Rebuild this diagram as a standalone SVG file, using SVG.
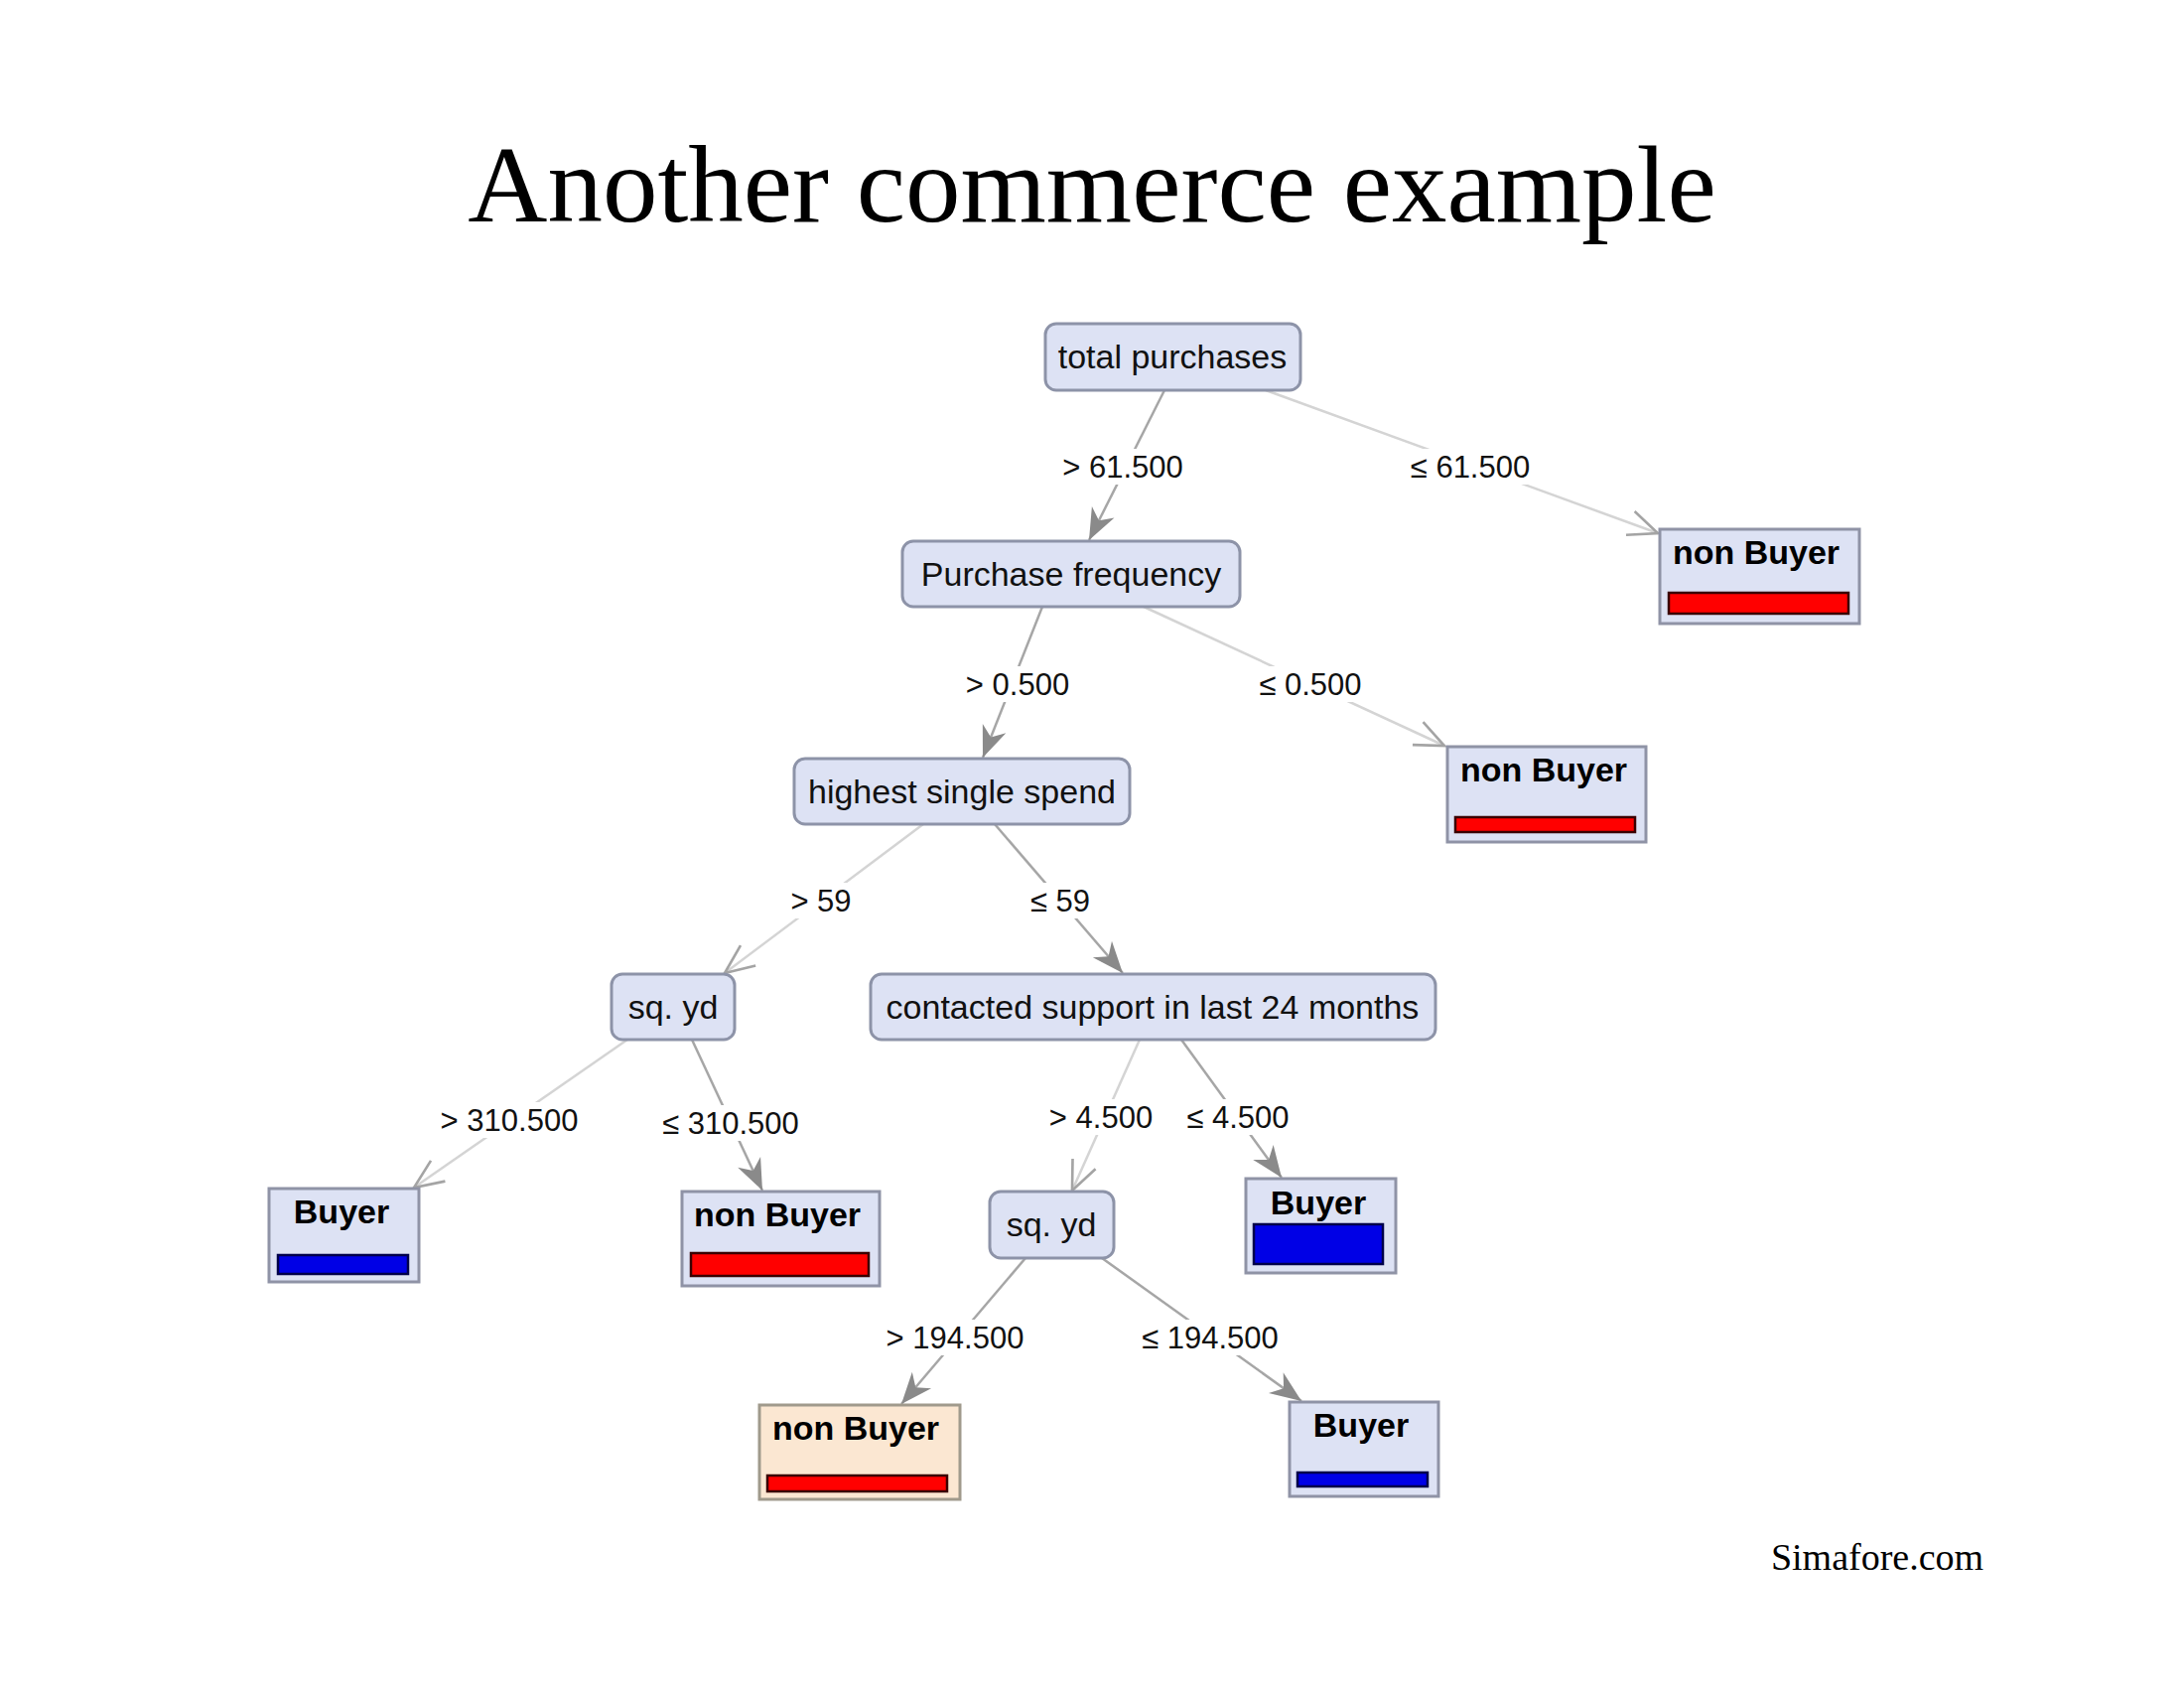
<svg xmlns="http://www.w3.org/2000/svg" width="2200" height="1700" viewBox="0 0 2200 1700">
  <style>
    .title { font-family: "Liberation Serif", "Times New Roman", serif; fill: #000; }
    .split rect { fill: #dde2f4; stroke: #8d93a8; stroke-width: 3; }
    .split text { font-family: "Liberation Sans", Arial, sans-serif; font-size: 34px; fill: #111; text-anchor: middle; }
    .leaf > rect.box { fill: #dde2f4; stroke: #8f93a6; stroke-width: 3; }
    .leaf.peach > rect.box { fill: #fbe7d2; stroke: #a09a8c; }
    .leaf text { font-family: "Liberation Sans", Arial, sans-serif; font-size: 34px; font-weight: bold; fill: #000; text-anchor: middle; }
    .bar-red { fill: #ff0000; stroke: #3a0000; stroke-width: 2.5; }
    .bar-blue { fill: #0000e6; stroke: #00004a; stroke-width: 2.5; }
    .edge { fill: none; stroke-width: 2.5; }
    .edge.dark { stroke: #a6a6a6; marker-end: url(#arrowDark); }
    .edge.light { stroke: #d4d4d4; marker-end: url(#arrowLight); }
    .lbl rect { fill: #ffffff; }
    .lbl text { font-family: "Liberation Sans", Arial, sans-serif; font-size: 31px; fill: #111; text-anchor: middle; }
  </style>
  <defs>
    <marker id="arrowDark" markerUnits="userSpaceOnUse" markerWidth="40" markerHeight="40" viewBox="-34 -16 38 32" refX="0" refY="0" orient="auto">
      <path d="M0,0 L-30,-12 L-21,0 L-30,12 Z" fill="#8a8a8a"/>
    </marker>
    <marker id="arrowLight" markerUnits="userSpaceOnUse" markerWidth="40" markerHeight="40" viewBox="-34 -16 38 32" refX="0" refY="0" orient="auto">
      <path d="M-28,-12 L0,0 L-28,12" fill="none" stroke="#a4a4a4" stroke-width="2.5"/>
    </marker>
  </defs>

  <rect x="0" y="0" width="2200" height="1700" fill="#ffffff"/>

  <text class="title" x="1100" y="223" font-size="111" text-anchor="middle">Another commerce example</text>
  <text class="title" x="1891" y="1581" font-size="38" text-anchor="middle">Simafore.com</text>

  <!-- connectors, drawn under the nodes -->
  <g id="connectors">
    <line class="edge dark" x1="1173" y1="393" x2="1097" y2="544"/>
    <line class="edge light" x1="1275" y1="393" x2="1670" y2="537"/>
    <line class="edge dark" x1="1050" y1="611" x2="990" y2="763"/>
    <line class="edge light" x1="1152" y1="611" x2="1455" y2="751"/>
    <line class="edge light" x1="930" y1="830" x2="730" y2="980"/>
    <line class="edge dark" x1="1002" y1="830" x2="1131" y2="980"/>
    <line class="edge light" x1="632" y1="1047" x2="417" y2="1196"/>
    <line class="edge dark" x1="697" y1="1047" x2="768" y2="1199"/>
    <line class="edge light" x1="1148" y1="1047" x2="1080" y2="1199"/>
    <line class="edge dark" x1="1190" y1="1047" x2="1291" y2="1186"/>
    <line class="edge dark" x1="1033" y1="1267" x2="908" y2="1414"/>
    <line class="edge dark" x1="1110" y1="1267" x2="1311" y2="1411"/>

    <!-- edge labels on white plates -->
    <g class="lbl"><rect x="1064" y="452" width="134" height="36"/><text x="1131" y="481">&gt; 61.500</text></g>
    <g class="lbl"><rect x="1411" y="452" width="140" height="36"/><text x="1481" y="481">≤ 61.500</text></g>
    <g class="lbl"><rect x="966" y="671" width="118" height="36"/><text x="1025" y="700">&gt; 0.500</text></g>
    <g class="lbl"><rect x="1259" y="671" width="122" height="36"/><text x="1320" y="700">≤ 0.500</text></g>
    <g class="lbl"><rect x="792" y="889" width="70" height="36"/><text x="827" y="918">&gt; 59</text></g>
    <g class="lbl"><rect x="1031" y="889" width="74" height="36"/><text x="1068" y="918">≤ 59</text></g>
    <g class="lbl"><rect x="436" y="1110" width="154" height="36"/><text x="513" y="1139">&gt; 310.500</text></g>
    <g class="lbl"><rect x="657" y="1113" width="158" height="36"/><text x="736" y="1142">≤ 310.500</text></g>
    <g class="lbl"><rect x="1050" y="1107" width="118" height="36"/><text x="1109" y="1136">&gt; 4.500</text></g>
    <g class="lbl"><rect x="1186" y="1107" width="122" height="36"/><text x="1247" y="1136">≤ 4.500</text></g>
    <g class="lbl"><rect x="885" y="1329" width="154" height="36"/><text x="962" y="1358">&gt; 194.500</text></g>
    <g class="lbl"><rect x="1140" y="1329" width="158" height="36"/><text x="1219" y="1358">≤ 194.500</text></g>
  </g>

  <!-- split nodes -->
  <g id="n-total-purchases" class="split">
    <rect x="1053" y="326" width="257" height="67" rx="11"/>
    <text x="1181" y="371">total purchases</text>
  </g>
  <g id="n-purchase-frequency" class="split">
    <rect x="909" y="545" width="340" height="66" rx="11"/>
    <text x="1079" y="590">Purchase frequency</text>
  </g>
  <g id="n-highest-single-spend" class="split">
    <rect x="800" y="764" width="338" height="66" rx="11"/>
    <text x="969" y="809">highest single spend</text>
  </g>
  <g id="n-sqyd-1" class="split">
    <rect x="616" y="981" width="124" height="66" rx="11"/>
    <text x="678" y="1026">sq. yd</text>
  </g>
  <g id="n-contacted-support" class="split">
    <rect x="877" y="981" width="569" height="66" rx="11"/>
    <text x="1161" y="1026">contacted support in last 24 months</text>
  </g>
  <g id="n-sqyd-2" class="split">
    <rect x="997" y="1200" width="125" height="67" rx="11"/>
    <text x="1059" y="1245">sq. yd</text>
  </g>

  <!-- leaf nodes -->
  <g id="leaf-nonbuyer-1" class="leaf">
    <rect class="box" x="1672" y="533" width="201" height="95"/>
    <text x="1769" y="568">non Buyer</text>
    <rect class="bar-red" x="1681" y="597" width="181" height="21"/>
  </g>
  <g id="leaf-nonbuyer-2" class="leaf">
    <rect class="box" x="1458" y="752" width="200" height="96"/>
    <text x="1555" y="787">non Buyer</text>
    <rect class="bar-red" x="1466" y="823" width="181" height="15"/>
  </g>
  <g id="leaf-buyer-1" class="leaf">
    <rect class="box" x="271" y="1197" width="151" height="94"/>
    <text x="344" y="1232">Buyer</text>
    <rect class="bar-blue" x="280" y="1264" width="131" height="19"/>
  </g>
  <g id="leaf-nonbuyer-3" class="leaf">
    <rect class="box" x="687" y="1200" width="199" height="95"/>
    <text x="783" y="1235">non Buyer</text>
    <rect class="bar-red" x="696" y="1262" width="179" height="23"/>
  </g>
  <g id="leaf-buyer-2" class="leaf">
    <rect class="box" x="1255" y="1187" width="151" height="95"/>
    <text x="1328" y="1223">Buyer</text>
    <rect class="bar-blue" x="1263" y="1233" width="130" height="40"/>
  </g>
  <g id="leaf-nonbuyer-4" class="leaf peach">
    <rect class="box" x="765" y="1415" width="202" height="95"/>
    <text x="862" y="1450">non Buyer</text>
    <rect class="bar-red" x="773" y="1486" width="181" height="16"/>
  </g>
  <g id="leaf-buyer-3" class="leaf">
    <rect class="box" x="1299" y="1412" width="150" height="95"/>
    <text x="1371" y="1447">Buyer</text>
    <rect class="bar-blue" x="1307" y="1483" width="131" height="14"/>
  </g>
</svg>
